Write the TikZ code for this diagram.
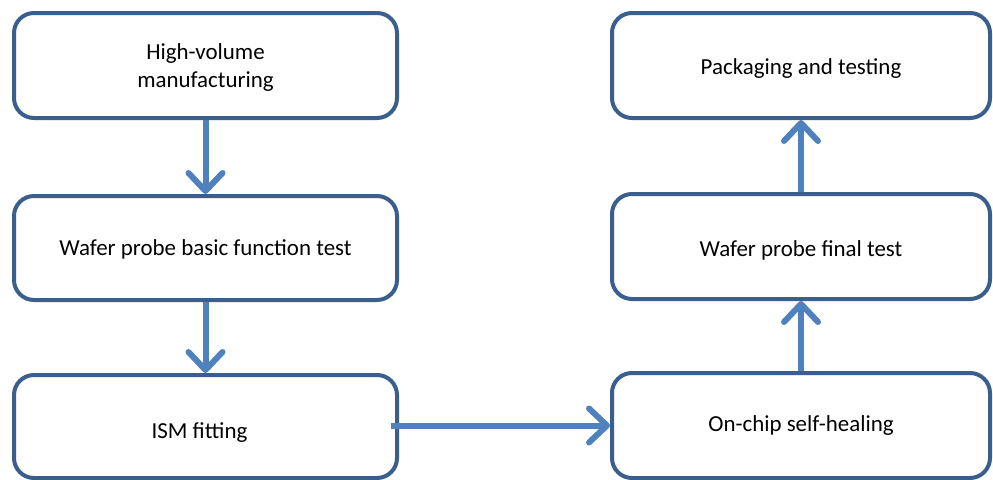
\documentclass[tikz,border=0pt]{standalone}
\usepackage{fontspec}
\setmainfont{Carlito}
\usetikzlibrary{arrows.meta}
\definecolor{boxline}{HTML}{3B5F8C}
\definecolor{flow}{HTML}{4F81BD}
\def\px{0.75pt}
% lower a (possibly multi-line) label without changing its box
\newcommand{\dropby}[2]{\raisebox{-#1}[\height][\depth]{\begin{tabular}{@{}c@{}}#2\end{tabular}}}
\begin{document}
\begin{tikzpicture}[x=0.75pt,y=-0.75pt,
  stage/.style={draw=boxline, line width=4*\px, rounded corners=20*\px,
    fill=white, align=center, inner sep=0pt,
    font=\fontsize{17.2}{21}\selectfont},
  flowarrow/.style={draw=flow, line width=6*\px,
    -{Straight Barb[length=18*\px, width=34*\px, round]}}]
\useasboundingbox (0,0) rectangle (993,479);
% left column
\node[stage, minimum width=383*\px, minimum height=105*\px] (hvm) at (205.5,65.5)
  {\dropby{1.5pt}{High-volume\\manufacturing}};
\node[stage, minimum width=383*\px, minimum height=104*\px] (basic) at (205.5,248)
  {\dropby{1.5pt}{Wafer probe basic function test}};
\node[stage, minimum width=383*\px, minimum height=103*\px] (ism) at (205.5,426.5)
  {\hspace*{-9pt}\dropby{4.5pt}{ISM fitting}};
% right column
\node[stage, minimum width=378*\px, minimum height=105*\px] (pack) at (801,65.5)
  {\dropby{2.2pt}{Packaging and testing}};
\node[stage, minimum width=378*\px, minimum height=105*\px] (final) at (801,246.5)
  {\dropby{3pt}{Wafer probe final test}};
\node[stage, minimum width=378*\px, minimum height=105*\px] (heal) at (801,425.5)
  {\dropby{0pt}{On-chip self-healing}};
% flow
\draw[flowarrow] (hvm.south) -- (basic.north);
\draw[flowarrow] (basic.south) -- (ism.north);
\draw[flowarrow] ([xshift=-8*\px]ism.east |- heal.west) -- (heal.west);
\draw[flowarrow] (heal.north) -- (final.south);
\draw[flowarrow] (final.north) -- (pack.south);
\end{tikzpicture}
\end{document}
